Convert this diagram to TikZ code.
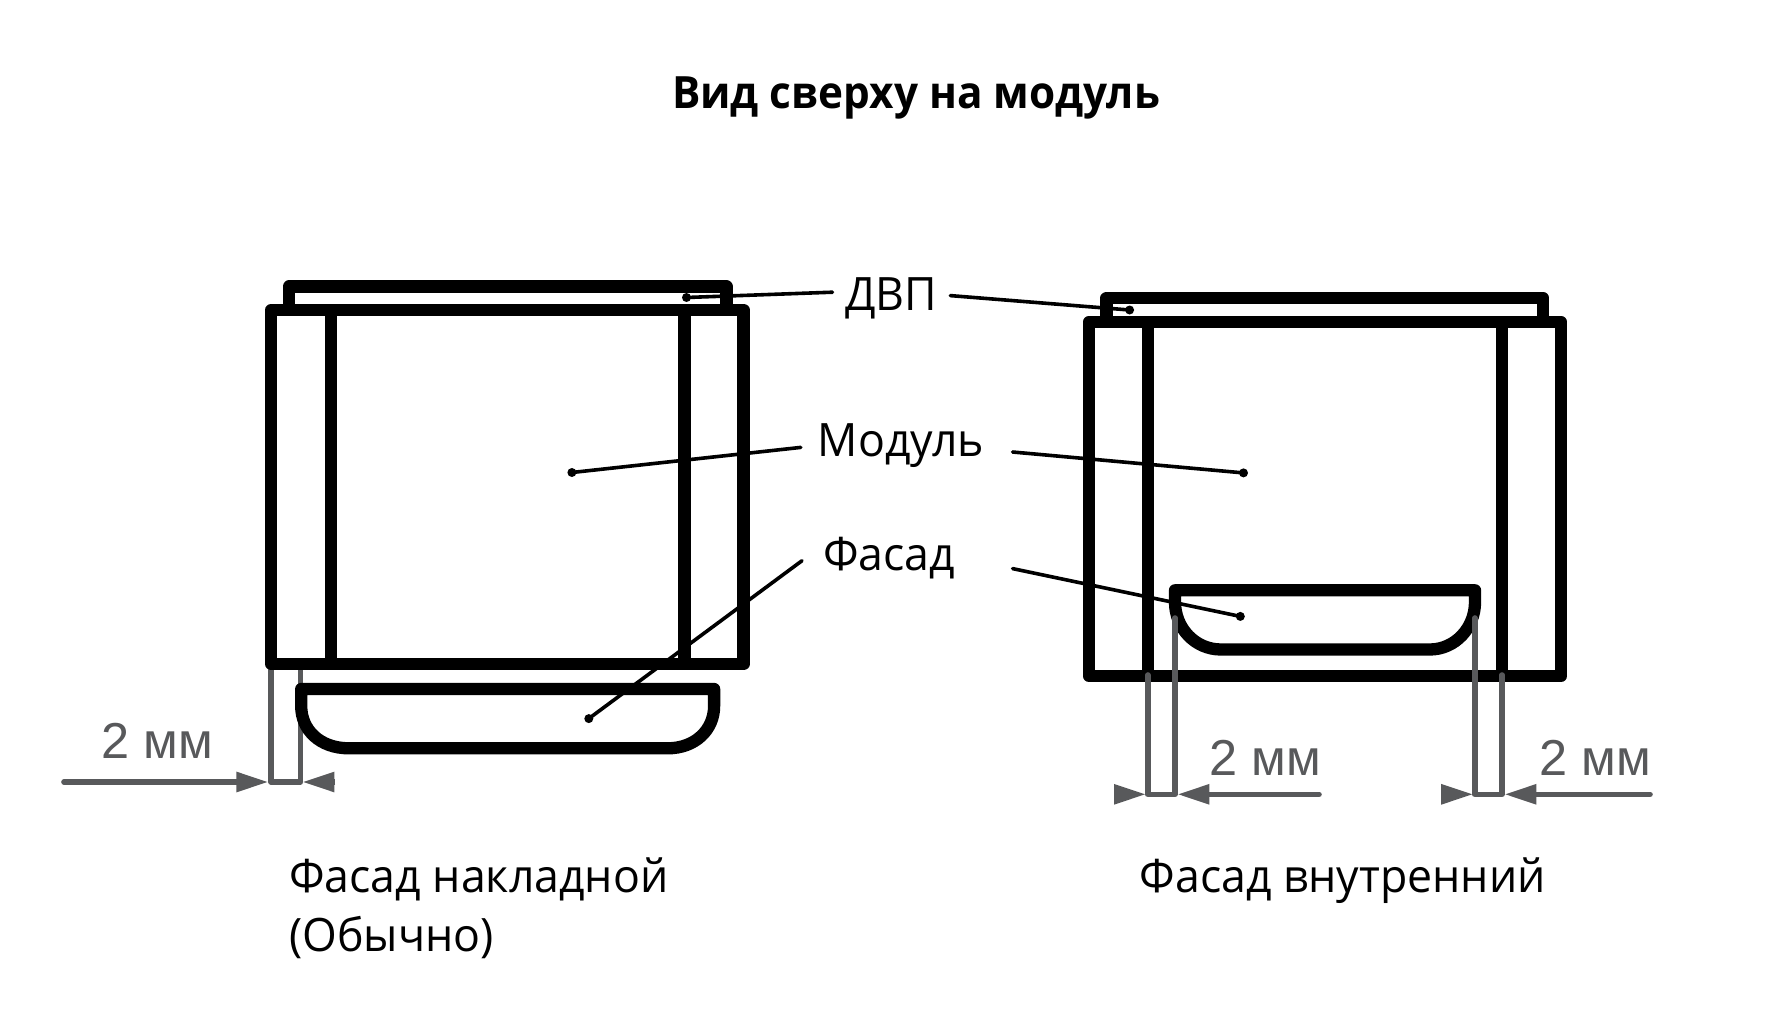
\documentclass[tikz,border=0pt]{standalone}
\usepackage{fontspec}
\setmainfont{Open Sans}
\newfontfamily\dimfont{Liberation Sans}
\newfontfamily\titlefont[FakeStretch=0.95]{Open Sans Bold}
\newfontfamily\lblfont[FakeStretch=0.97]{Open Sans}
\usetikzlibrary{arrows.meta}
\definecolor{dimgray}{HTML}{58595B}
\tikzset{
  body/.style={draw=black,line width=12.3pt,line join=round},
  inner/.style={draw=black,line width=12.3pt,line cap=butt},
  leader/.style={draw=black,line width=3.6pt,line cap=round},
  dot/.style={fill=black,circle,inner sep=0pt,minimum size=9pt},
  dimline/.style={draw=dimgray,line width=5.6pt,line cap=round,line join=round},
  dimtip/.style={draw=dimgray,line width=5.6pt,line cap=butt,-{Triangle[length=32pt,width=19pt,color=dimgray]}},
  lbl/.style={inner sep=0pt,font=\lblfont\fontsize{46}{50}\selectfont,text=black},
  caption/.style={lbl,anchor=base west},
  dimlbl/.style={inner sep=0pt,anchor=base,font=\dimfont\fontsize{50.5}{56}\selectfont,text=dimgray},
}
\begin{document}
\begin{tikzpicture}[x=1pt,y=-1pt]
\useasboundingbox[fill=white] (0,0) rectangle (1776,1011);

% labels
\node[inner sep=0pt,font=\titlefont\fontsize{44.5}{50}\selectfont] (title) at (916,98) {Вид сверху на модуль};
\node[lbl] (dvp) at (891,298) {ДВП};
\node[lbl] (modul) at (901,446) {Модуль};
\node[lbl] (fasad) at (889,558) {Фасад};
\node[caption] (capa) at (289,892) {Фасад накладной};
\node[caption] (capb) at (289,951) {(Обычно)};
\node[caption] (capc) at (1139.5,892) {Фасад внутренний};
\node[dimlbl] (dima) at (157.5,758) {2 мм};
\node[dimlbl] (dimb) at (1265.5,775) {2 мм};
\node[dimlbl] (dimc) at (1595,775) {2 мм};

% dimension lines, left figure
\coordinate (a1) at (271.2,670);
\coordinate (a2) at (271.2,782);
\coordinate (a3) at (300.5,782);
\coordinate (a4) at (300.5,670);
\draw[dimline] (a1) -- (a2) -- (a3) -- (a4);
\coordinate (a5) at (64,782);
\coordinate (a6) at (268.4,782);
\draw[dimline,line cap=round] (a5) -- (240,782);
\draw[dimtip] (a5) -- (a6);
\coordinate (a7) at (335,782);
\coordinate (a8) at (302.4,782);
\draw[dimtip] (a7) -- (a8);

% left figure
\draw[body] (289,304) -- (289,286.5) -- (726.4,286.5) -- (726.4,304);
\draw[body] (271.2,310) rectangle (743.6,664);
\draw[inner] (330.7,310) -- (330.7,664);
\draw[inner] (684.6,310) -- (684.6,664);
\draw[body] (301.2,689) -- (714.1,689) -- (714.1,706)
  .. controls (714.1,730) and (695,748.3) .. (667.7,748.3) -- (349,748.3)
  .. controls (320,748.3) and (301.2,730) .. (301.2,706) -- cycle;

% right figure
\draw[body] (1106.6,316) -- (1106.6,298) -- (1543,298) -- (1543,316);
\draw[body] (1089,322) rectangle (1561,676);
\draw[inner] (1147.8,322) -- (1147.8,676);
\draw[inner] (1502,322) -- (1502,676);
\draw[body] (1175,590.3) -- (1475,590.3) -- (1475,602)
  .. controls (1475,628) and (1455,649.5) .. (1429.7,649.5) -- (1221,649.5)
  .. controls (1195,649.5) and (1175,628) .. (1175,602) -- cycle;

% dimension lines, right figure
\coordinate (b1) at (1147.8,675);
\coordinate (b2) at (1147.8,794.3);
\coordinate (b3) at (1175,794.3);
\coordinate (b4) at (1175,618);
\draw[dimline] (b1) -- (b2) -- (b3) -- (b4);
\coordinate (b5) at (1114.2,794.3);
\coordinate (b6) at (1146,794.3);
\draw[dimtip] (b5) -- (b6);
\coordinate (b7) at (1319,794.3);
\coordinate (b8) at (1177.4,794.3);
\draw[dimline] (b7) -- (1205,794.3);
\draw[dimtip] (b7) -- (b8);
\coordinate (c1) at (1502,675);
\coordinate (c2) at (1502,794.3);
\coordinate (c3) at (1474.8,794.3);
\coordinate (c4) at (1474.8,618);
\draw[dimline] (c1) -- (c2) -- (c3) -- (c4);
\coordinate (c5) at (1441.2,794.3);
\coordinate (c6) at (1473.2,794.3);
\draw[dimtip] (c5) -- (c6);
\coordinate (c7) at (1650,794.3);
\coordinate (c8) at (1504.4,794.3);
\draw[dimline] (c7) -- (1532,794.3);
\draw[dimtip] (c7) -- (c8);

% leaders
\node[dot] (d1) at (686.5,297.5) {};
\node[dot] (d2) at (571.9,472.5) {};
\node[dot] (d3) at (588.8,718.6) {};
\node[dot] (d4) at (1129.6,310) {};
\node[dot] (d5) at (1243.5,472.9) {};
\node[dot] (d6) at (1240.3,616.4) {};
\coordinate (e1) at (832.5,292.2);
\coordinate (e2) at (800.8,447.4);
\coordinate (e3) at (802,560.7);
\coordinate (e4) at (950.3,295.6);
\coordinate (e5) at (1012.6,452);
\coordinate (e6) at (1012.6,568.6);
\draw[leader] (d1.center) -- (e1);
\draw[leader] (d2.center) -- (e2);
\draw[leader] (d3.center) -- (e3);
\draw[leader] (d4.center) -- (e4);
\draw[leader] (d5.center) -- (e5);
\draw[leader] (d6.center) -- (e6);
\end{tikzpicture}
\end{document}
